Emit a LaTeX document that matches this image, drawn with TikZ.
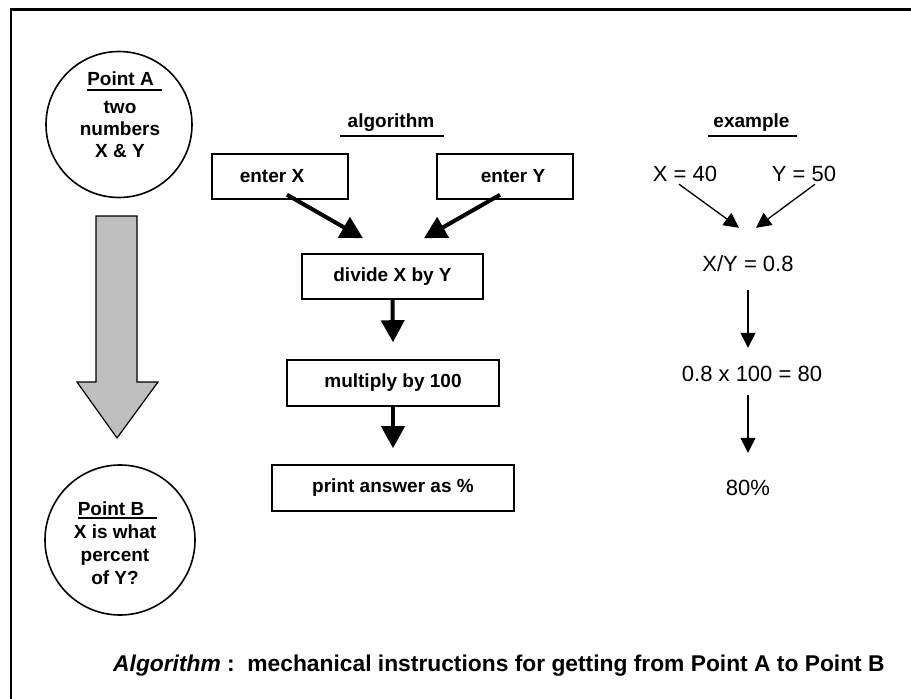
\documentclass[tikz,border=0pt]{standalone}
\usepackage{fontspec}
\setmainfont{Liberation Sans}
\usetikzlibrary{arrows.meta}
\begin{document}
\begin{tikzpicture}[
        x=1pt, y=-1pt,
        every node/.style={font=\fontsize{19}{22}\selectfont\bfseries, inner sep=0pt},
        stepbox/.style={draw, line width=1.6pt, minimum height=45pt},
        pointcircle/.style={draw, circle, line width=1.6pt},
        exval/.style={font=\fontsize{22}{26}\selectfont, text height=16pt, text depth=0pt, anchor=base},
        fat/.style={line width=4pt, -{Triangle[length=22pt,width=23pt]}},
        slim/.style={line width=1.3pt, -{Triangle[length=15pt,width=15pt]}},
        headline/.style={line width=1.5pt},
    ]
    \useasboundingbox (0,0) rectangle (911,699);
    \draw[line width=2.5pt] (11,699) -- (11,9.5) -- (911,9.5);

    % start and goal
    \node[pointcircle, minimum size=146pt] (circA) at (119,124.5) {};
    \node[anchor=base] (titleA) at (120.5,85) {Point A};
    \draw[headline] ([yshift=-5pt]titleA.base west) -- ([xshift=8pt,yshift=-5pt]titleA.base east);
    \node[align=center] (bodyA) at (120,129) {two\\numbers\\X \& Y};

    \draw[line width=1.2pt, fill=black!25] (96,216) -- (137,216) -- (137,382) -- (158,382)
        -- (117,438) -- (77,382) -- (96,382) -- cycle;

    \node[pointcircle, minimum size=150pt] (circB) at (120,540) {};
    \node[anchor=base] (titleB) at (111,515) {Point B};
    \draw[headline] ([yshift=-3pt]titleB.base west) -- ([xshift=13pt,yshift=-3pt]titleB.base east);
    \node[align=center, font=\fontsize{19}{23}\selectfont\bfseries] (bodyB) at (115,555) {X is what\\percent\\of Y?};

    % algorithm
    \node[anchor=base] (algo) at (391,127) {algorithm};
    \draw[headline] ([xshift=-8pt,yshift=-9pt]algo.base west) -- ([xshift=10pt,yshift=-9pt]algo.base east);
    \node[stepbox, minimum width=136pt] (enterX) at (280,176.5) {enter X\hspace*{16pt}};
    \node[stepbox, minimum width=136pt] (enterY) at (505,176.5) {\hspace*{16pt}enter Y};
    \node[stepbox, minimum width=181pt] (divide) at (392.5,276.5) {divide X by Y};
    \node[stepbox, minimum width=212pt, minimum height=46pt] (multiply) at (393,383) {multiply by 100};
    \node[stepbox, minimum width=242pt, minimum height=46pt] (print) at (393,488) {print answer as \%};
    \draw[fat] ([xshift=7pt,yshift=5pt]enterX.south) -- ([xshift=-29.5pt,yshift=15pt]divide.north);
    \draw[fat] ([xshift=-5pt,yshift=5pt]enterY.south) -- ([xshift=31.5pt,yshift=15pt]divide.north);
    \draw[fat] (divide.south) -- ([yshift=17pt]multiply.north);
    \draw[fat] (multiply.south) -- ([yshift=16pt]print.north);

    % example
    \node[anchor=base] (exmp) at (751.5,127) {example};
    \draw[headline] ([xshift=-5pt,yshift=-9pt]exmp.base west) -- ([xshift=7pt,yshift=-9pt]exmp.base east);
    \node[exval] (valX) at (685,181) {X = 40};
    \node[exval] (valY) at (804,181) {Y = 50};
    \node[exval] (ratio) at (748,271) {X/Y = 0.8};
    \node[exval] (times) at (752,381) {0.8 x 100 = 80};
    \node[exval] (pct) at (748,495) {80\%};
    \draw[slim] ([xshift=-6pt,yshift=-3pt]valX.south) -- ([xshift=-9pt,yshift=27pt]ratio.north);
    \draw[slim] ([xshift=11pt,yshift=-3pt]valY.south) -- ([xshift=8pt,yshift=27pt]ratio.north);
    \draw[slim] ([yshift=-19pt]ratio.south) -- ([xshift=-4pt,yshift=17pt]times.north);
    \draw[slim] ([xshift=-4pt,yshift=-14pt]times.south) -- ([yshift=26pt]pct.north);

    \node[anchor=base west, font=\fontsize{22.8}{26}\selectfont\bfseries] (caption) at (113,671)
        {\textit{Algorithm} :\ \ mechanical instructions for getting from Point A to Point B};
\end{tikzpicture}
\end{document}
